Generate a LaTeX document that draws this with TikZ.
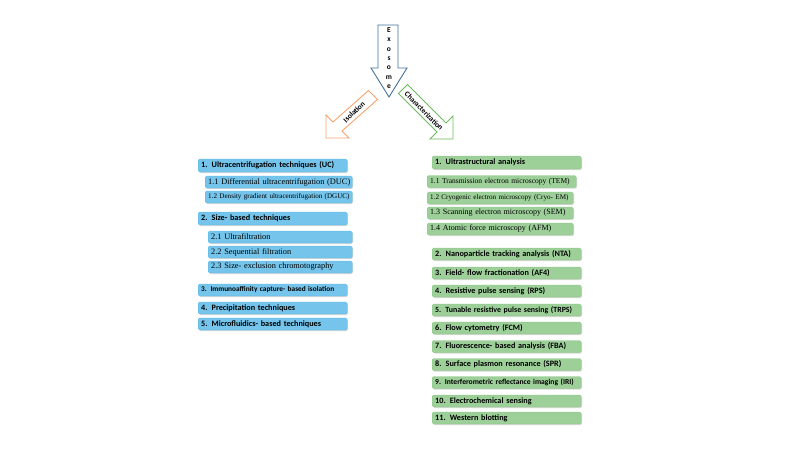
\documentclass[tikz,border=0pt]{standalone}
\usepackage{fontspec}
\setmainfont{Liberation Serif}
\newfontfamily\hdr{Carlito}
\usetikzlibrary{shadows}
\definecolor{bl}{HTML}{5BBAE8}
\definecolor{gr}{HTML}{8CC787}
\definecolor{ex}{HTML}{41729C}
\definecolor{iso}{HTML}{F4A46E}
\definecolor{chr}{HTML}{6DBB5E}
\tikzset{
 bx/.style={draw=#1, fill=#1!85!white, rounded corners=1.5pt, inner sep=0pt, inner xsep=3pt, align=left, anchor=west, drop shadow={shadow xshift=1pt,shadow yshift=-1pt,opacity=0.3}},
 hb/.style={bx=bl, font=\hdr\bfseries\fontsize{8.2}{9}\selectfont, minimum height=13pt},
 sb/.style={bx=bl, font=\fontsize{8.3}{9}\selectfont, minimum height=12pt},
 hg/.style={bx=gr, font=\hdr\bfseries\fontsize{8.2}{9}\selectfont, minimum height=13pt},
 sg/.style={bx=gr, font=\fontsize{8}{9}\selectfont, minimum height=12pt},
 arr/.style={draw=#1, line width=0.9pt, fill=white},
 w149/.style={minimum width=149pt, text width=143pt},
 w147/.style={minimum width=147pt, text width=141pt},
 w146/.style={minimum width=146pt, text width=140pt},
 w144/.style={minimum width=144pt, text width=138pt},
}
\begin{document}
\begin{tikzpicture}[x=1pt,y=-1pt]
\useasboundingbox (0,0) rectangle (801,452);
% Exosome arrow
\draw[arr=ex] (378,25) -- (398,25) -- (398,68) -- (407,68) -- (389,97) -- (371,68) -- (378,68) -- cycle;
\node[font=\hdr\bfseries\fontsize{7.5}{9.4}\selectfont, align=center, inner sep=0pt] (exo) at (389,58) {E\\x\\o\\s\\o\\m\\e};
% Isolation arrow
\draw[arr=iso] (368.5,90.5) -- (377.5,99.5) -- (342,131) -- (349,138) -- (326,138) -- (326,115) -- (333,122) -- cycle;
\node[font=\hdr\bfseries\fontsize{7.5}{8}\selectfont, rotate=45, inner sep=0pt] (iso) at (354,112) {Isolation};
% Characterization arrow
\draw[arr=chr] (407.5,84.5) -- (398.5,93.5) -- (437,132) -- (430,139) -- (453,139) -- (453,116) -- (446,123) -- cycle;
\node[font=\hdr\bfseries\fontsize{7.5}{8}\selectfont, rotate=-45, inner sep=0pt] (chz) at (424,111) {Characterization};
% Left column
\node[hb, w149] (l1) at (198,165.5) {\mbox{1. Ultracentrifugation techniques (UC)}};
\node[sb, w147] (l11) at (205,182) {\mbox{1.1 Differential ultracentrifugation (DUC)}};
\node[sb, w147, font=\fontsize{7.1}{8}\selectfont] (l12) at (205,197) {\mbox{1.2 Density gradient ultracentrifugation (DGUC)}};
\node[hb, w149] (l2) at (198,218.5) {\mbox{2. Size- based techniques}};
\node[sb, w144] (l21) at (208,237) {\mbox{2.1 Ultrafiltration}};
\node[sb, w144] (l22) at (208,252) {\mbox{2.2 Sequential filtration}};
\node[sb, w144] (l23) at (208,267) {\mbox{2.3 Size- exclusion chromotography}};
\node[hb, w149, minimum height=12pt, font=\hdr\bfseries\fontsize{7.3}{8}\selectfont] (l3) at (198,290) {\mbox{3. Immunoaffinity capture- based isolation}};
\node[hb, w149, minimum height=12pt] (l4) at (198,308) {\mbox{4. Precipitation techniques}};
\node[hb, w149, minimum height=12pt] (l5) at (198,324) {\mbox{5. Microfluidics- based techniques}};
% Right column
\node[hg, w149] (r1) at (432,162.5) {\mbox{1. Ultrastructural analysis}};
\node[sg, w149, font=\fontsize{7.5}{8}\selectfont] (r11) at (427,181.5) {\mbox{1.1 Transmission electron microscopy (TEM)}};
\node[sg, w146, font=\fontsize{7.1}{8}\selectfont] (r12) at (427,198) {\mbox{1.2 Cryogenic electron microscopy (Cryo- EM)}};
\node[sg, w146] (r13) at (427,213) {\mbox{1.3 Scanning electron microscopy (SEM)}};
\node[sg, w146] (r14) at (427,229) {\mbox{1.4 Atomic force microscopy (AFM)}};
\node[hg, w149, minimum height=12pt] (r2) at (432,254) {\mbox{2. Nanoparticle tracking analysis (NTA)}};
\node[hg, w149, minimum height=12pt] (r3) at (432,273) {\mbox{3. Field- flow fractionation (AF4)}};
\node[hg, w149, minimum height=12pt] (r4) at (432,291) {\mbox{4. Resistive pulse sensing (RPS)}};
\node[hg, w149, minimum height=12pt, font=\hdr\bfseries\fontsize{7.9}{8}\selectfont] (r5) at (432,310) {\mbox{5. Tunable resistive pulse sensing (TRPS)}};
\node[hg, w149, minimum height=12pt] (r6) at (432,328) {\mbox{6. Flow cytometry (FCM)}};
\node[hg, w149, minimum height=12pt] (r7) at (432,346.5) {\mbox{7. Fluorescence- based analysis (FBA)}};
\node[hg, w149, minimum height=12pt] (r8) at (432,364.5) {\mbox{8. Surface plasmon resonance (SPR)}};
\node[hg, w149, minimum height=12pt, font=\hdr\bfseries\fontsize{7.6}{8}\selectfont] (r9) at (432,382.5) {\mbox{9. Interferometric reflectance imaging (IRI)}};
\node[hg, w149, minimum height=12pt] (r10) at (432,401) {\mbox{10. Electrochemical sensing}};
\node[hg, w149, minimum height=12pt] (r11b) at (432,418) {\mbox{11. Western blotting}};
\end{tikzpicture}
\end{document}
